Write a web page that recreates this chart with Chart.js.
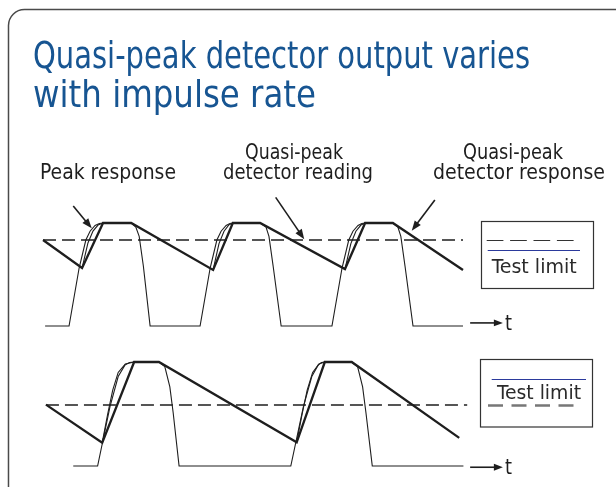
<!DOCTYPE html>
<html>
<head>
<meta charset="utf-8">
<title>Quasi-peak detector output varies with impulse rate</title>
<script src="https://cdn.jsdelivr.net/npm/chart.js@4/dist/chart.umd.min.js"></script>
<style>
  html, body { margin: 0; padding: 0; background: #fff; }
  #wrap { width: 616px; height: 487px; position: relative; }
</style>
</head>
<body>
<div id="wrap"><canvas id="qpChart" width="616" height="487"></canvas></div>
<script>
// time axis in arbitrary units (0..100 across the plot), amplitude 0 = baseline, 1 = pulse top

// top trace: faster impulse rate
const topLimit = [[0, 0.835], [100, 0.835]];
const topQp = [[0, 0.835], [9.3, 0.563], [14.3, 1], [21.0, 1], [40.5, 0.544], [45.2, 1], [51.7, 1],
  [71.9, 0.553], [76.7, 1], [83.3, 1], [100, 0.544]];
const topPulse = [[0.5, 0], [6.2, 0], [8.6, 0.563], [10.2, 0.835], [11.2, 0.92], [12.4, 0.976], [13.4, 0.995],
  [14.3, 1], [21.0, 1], [22.1, 0.96], [22.9, 0.87], [23.9, 0.58], [25.5, 0], [37.4, 0], [39.8, 0.563],
  [41.4, 0.835], [42.4, 0.92], [43.6, 0.976], [44.5, 0.995], [45.2, 1], [51.7, 1], [53.1, 0.96], [53.8, 0.87],
  [54.8, 0.58], [56.7, 0], [68.8, 0], [71.2, 0.563], [72.8, 0.835], [73.8, 0.92], [75.0, 0.976], [75.9, 0.995],
  [76.7, 1], [83.3, 1], [84.5, 0.96], [85.2, 0.87], [86.2, 0.58], [88.1, 0], [100, 0]];
const topPeak = [
  [[9.3, 0.563], [10.7, 0.806], [11.9, 0.922], [13.1, 0.98], [14.3, 1]],
  [[40.5, 0.544], [41.9, 0.8], [43.1, 0.92], [44.2, 0.98], [45.2, 1]],
  [[71.9, 0.553], [73.3, 0.8], [74.5, 0.92], [75.7, 0.98], [76.7, 1]]
];

// bottom trace: slower impulse rate
const botLimit = [[0.7, 0.587], [101, 0.587]];
const botQp = [[0.7, 0.59], [14.1, 0.224], [21.7, 1], [27.6, 1], [60.4, 0.228], [67.1, 1], [73.5, 1], [99.1, 0.27]];
const botPulse = [[7.2, 0], [13.0, 0], [15.95, 0.57], [17.9, 0.86], [19.5, 0.97], [20.6, 0.995], [21.7, 1],
  [27.6, 1], [29.0, 0.955], [30.2, 0.76], [31.0, 0.51], [32.4, 0], [59.0, 0], [62.0, 0.57], [64.0, 0.86],
  [65.5, 0.97], [66.3, 0.995], [67.1, 1], [73.5, 1], [74.9, 0.955], [76.1, 0.76], [76.9, 0.51], [78.4, 0],
  [100.1, 0]];
const botPeak = [
  [[14.1, 0.224], [15.4, 0.5], [16.6, 0.73], [17.9, 0.9], [19.6, 0.98], [21.7, 1]],
  [[60.4, 0.228], [61.7, 0.5], [62.9, 0.73], [64.2, 0.9], [65.7, 0.98], [67.1, 1]]
];

const titleLines = ['Quasi-peak detector output varies', 'with impulse rate'];
const legendLabel = 'Test limit';

const FONT = '"Liberation Sans Narrow", "DejaVu Sans Condensed", Roboto, sans-serif';
const INK = '#1e1e1e';

const pts = arr => arr.map(p => ({ x: p[0], y: p[1] }));

function trace(data, axis, width, dash) {
  return {
    data: pts(data),
    yAxisID: axis,
    showLine: true,
    borderColor: INK,
    borderWidth: width,
    borderDash: dash || [],
    pointRadius: 0,
    tension: 0,
    fill: false
  };
}

const datasets = [
  trace(topLimit, 'yTop', 1.4, [13, 6]),
  trace(topPulse, 'yTop', 1.1),
  ...topPeak.map(s => trace(s, 'yTop', 1.1)),
  trace(topQp, 'yTop', 2.3),
  trace(botLimit, 'yBot', 1.4, [13, 6]),
  trace(botPulse, 'yBot', 1.1),
  ...botPeak.map(s => trace(s, 'yBot', 1.1)),
  trace(botQp, 'yBot', 2.3)
];

// squeeze text horizontally so it takes the condensed width of the original face
function fitText(ctx, text, x, y, size, width, color) {
  ctx.save();
  ctx.font = size + 'px ' + FONT;
  const w = ctx.measureText(text).width;
  ctx.translate(x, y);
  ctx.scale(width / w, 1);
  ctx.fillStyle = color;
  ctx.textBaseline = 'alphabetic';
  ctx.fillText(text, 0, 0);
  ctx.restore();
}

function arrow(ctx, x1, y1, x2, y2, head) {
  const ang = Math.atan2(y2 - y1, x2 - x1);
  ctx.save();
  ctx.strokeStyle = INK;
  ctx.fillStyle = INK;
  ctx.lineWidth = 1.6;
  ctx.beginPath();
  ctx.moveTo(x1, y1);
  ctx.lineTo(x2 - Math.cos(ang) * head * 0.8, y2 - Math.sin(ang) * head * 0.8);
  ctx.stroke();
  ctx.beginPath();
  ctx.moveTo(x2, y2);
  ctx.lineTo(x2 - Math.cos(ang) * head + Math.sin(ang) * head * 0.38, y2 - Math.sin(ang) * head - Math.cos(ang) * head * 0.38);
  ctx.lineTo(x2 - Math.cos(ang) * head - Math.sin(ang) * head * 0.38, y2 - Math.sin(ang) * head + Math.cos(ang) * head * 0.38);
  ctx.closePath();
  ctx.fill();
  ctx.restore();
}

const decor = {
  id: 'decor',
  beforeDraw(chart) {
    const ctx = chart.ctx;
    ctx.save();
    ctx.fillStyle = '#fff';
    ctx.fillRect(0, 0, chart.width, chart.height);
    // rounded frame, runs off the right and bottom edges
    ctx.strokeStyle = '#4a4a4a';
    ctx.lineWidth = 1.5;
    ctx.beginPath();
    ctx.roundRect(8.5, 9.5, 640, 500, 16);
    ctx.stroke();
    ctx.restore();
  },
  afterDraw(chart) {
    const ctx = chart.ctx;
    const sx = chart.scales.x, yt = chart.scales.yTop, yb = chart.scales.yBot;
    const X = t => sx.getPixelForValue(t);

    fitText(ctx, titleLines[0], 33, 68, 38, 497, '#175592');
    fitText(ctx, titleLines[1], 33, 107, 38, 283, '#175592');

    fitText(ctx, 'Peak response', 40, 179, 21, 136, INK);
    fitText(ctx, 'Quasi-peak', 245, 159, 21, 98, INK);
    fitText(ctx, 'detector reading', 223, 179, 21, 150, INK);
    fitText(ctx, 'Quasi-peak', 463, 159, 21, 100, INK);
    fitText(ctx, 'detector response', 433, 179, 21, 172, INK);

    arrow(ctx, X(7.2), yt.getPixelForValue(1.165), X(11.6), yt.getPixelForValue(0.948), 10);
    arrow(ctx, X(55.4), yt.getPixelForValue(1.249), X(62.2), yt.getPixelForValue(0.842), 10);
    arrow(ctx, X(93.3), yt.getPixelForValue(1.223), X(87.8), yt.getPixelForValue(0.925), 10);

    // time arrows
    arrow(ctx, X(101.7), yt.getPixelForValue(0.03), X(109.5), yt.getPixelForValue(0.03), 9);
    arrow(ctx, X(101.7), yb.getPixelForValue(-0.012), X(109.5), yb.getPixelForValue(-0.012), 9);
    fitText(ctx, 't', 505, 330, 22, 7, INK);
    fitText(ctx, 't', 505, 474, 22, 7, INK);

    // legend key, top panel
    ctx.save();
    ctx.strokeStyle = '#333';
    ctx.lineWidth = 1.2;
    ctx.strokeRect(481.5, 221.5, 112, 67);
    ctx.setLineDash([16.7, 6.7]);
    ctx.beginPath();
    ctx.moveTo(486.7, 240.5);
    ctx.lineTo(575, 240.5);
    ctx.stroke();
    ctx.setLineDash([]);
    ctx.strokeStyle = '#2b3a9c';
    ctx.beginPath();
    ctx.moveTo(487.7, 250.5);
    ctx.lineTo(580, 250.5);
    ctx.stroke();
    ctx.restore();
    fitText(ctx, legendLabel, 491.7, 272.5, 20, 85, '#2a2a2a');

    // legend key, bottom panel
    ctx.save();
    ctx.strokeStyle = '#333';
    ctx.lineWidth = 1.2;
    ctx.strokeRect(480.5, 359.5, 112, 67.5);
    ctx.strokeStyle = '#2b3a9c';
    ctx.beginPath();
    ctx.moveTo(491.7, 379.5);
    ctx.lineTo(586, 379.5);
    ctx.stroke();
    ctx.strokeStyle = '#777';
    ctx.lineWidth = 2.5;
    ctx.setLineDash([15, 8.5]);
    ctx.beginPath();
    ctx.moveTo(488, 405.5);
    ctx.lineTo(579, 405.5);
    ctx.stroke();
    ctx.restore();
    fitText(ctx, legendLabel, 497, 399, 20, 84, '#2a2a2a');
  }
};

new Chart(document.getElementById('qpChart').getContext('2d'), {
  type: 'scatter',
  data: { datasets },
  options: {
    responsive: false,
    animation: false,
    layout: { padding: 0 },
    plugins: { legend: { display: false }, tooltip: { enabled: false }, title: { display: false } },
    scales: {
      x: { type: 'linear', display: false, min: -10.24, max: 136.43 },
      yTop: { type: 'linear', display: false, min: -1.563, max: 3.165 },
      yBot: { type: 'linear', display: false, min: -0.202, max: 4.481 }
    }
  },
  plugins: [decor]
});
</script>
</body>
</html>
